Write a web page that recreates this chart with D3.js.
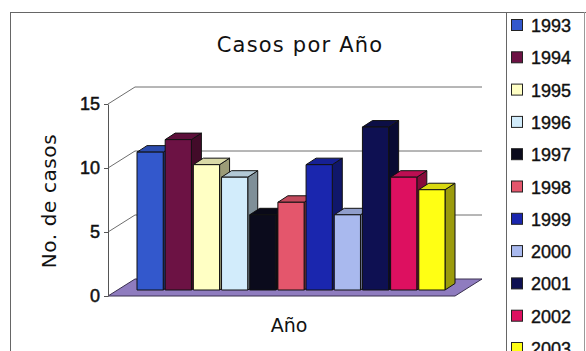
<!DOCTYPE html>
<html>
<head>
<meta charset="utf-8">
<script src="https://cdn.jsdelivr.net/npm/d3@7"></script>
<style>
  html, body { margin: 0; padding: 0; background: #fff; }
  svg { display: block; }
</style>
</head>
<body>
<svg id="chart" width="586" height="351"></svg>
<script>
// Chart data: one column per year
const years = ["1993", "1994", "1995", "1996", "1997", "1998", "1999", "2000", "2001", "2002", "2003"];
const cases = [11, 12, 10, 9, 6, 7, 10, 6, 13, 9, 8];
const yearColors = ["#3358cc", "#6c1244", "#ffffc4", "#d2ecfb", "#0b0b1c", "#e4566c",
                    "#1a26ae", "#a9b9ee", "#0e1052", "#dd1060", "#ffff14"];
const yTicks = [0, 5, 10, 15];
const titleText = "Casos por Año";
const yTitle = "No. de casos";
const xTitle = "Año";

const svg = d3.select("#chart");

// Oblique projection of the 3-D plot box
const depth = { dx: 27, dy: -17 };          // full floor depth
const barOffset = { dx: 9.5, dy: -6 };      // front plane of the bars
const barDepth = { dx: 10, dy: -6.5 };      // thickness of each bar
const axisX = 108;
const backRight = 482;

const y = d3.scaleLinear().domain([0, 15]).range([296, 104]);
const yBar = d3.scaleLinear().domain([0, 15]).range([296 + barOffset.dy, 296 + barOffset.dy - 188]);
const x = d3.scaleBand().domain(years).range([137, 445]).paddingInner(0.07).paddingOuter(0);
const color = d3.scaleOrdinal().domain(years).range(yearColors);

// Outer frame and legend box
svg.append("rect").attr("x", 10.5).attr("y", 12.5).attr("width", 600).attr("height", 400)
  .attr("fill", "none").attr("stroke", "#666");
svg.append("line").attr("x1", 506.5).attr("x2", 506.5).attr("y1", 12).attr("y2", 351)
  .attr("stroke", "#666");
svg.append("line").attr("x1", 584.5).attr("x2", 584.5).attr("y1", 12).attr("y2", 351)
  .attr("stroke", "#999");

// Title
svg.append("text").attr("x", 300).attr("y", 52).attr("text-anchor", "middle")
  .attr("font-family", "DejaVu Sans").attr("font-size", 21).attr("letter-spacing", 1.2)
  .attr("fill", "#111").text(titleText);

// Back-wall gridlines with their left-wall diagonals
const grid = svg.append("g").attr("fill", "none").attr("stroke", "#6e6e6e").attr("stroke-width", 1);
yTicks.filter(v => v > 0).forEach(v => {
  const y0 = y(v);
  grid.append("polyline")
    .attr("points", [[axisX, y0], [axisX + depth.dx, y0 + depth.dy], [backRight, y0 + depth.dy]].join(" "));
});

// Floor
const f0 = y(0);
svg.append("polygon")
  .attr("points", [[axisX, f0], [axisX + depth.dx, f0 + depth.dy], [backRight, f0 + depth.dy],
                   [backRight - depth.dx, f0]].join(" "))
  .attr("fill", "#8f7cbf").attr("stroke", "#3a3050").attr("stroke-width", 1);

// Y axis on the front-left edge
const axis = svg.append("g").attr("transform", `translate(${axisX},0)`)
  .call(d3.axisLeft(y).tickValues(yTicks).tickSize(4).tickSizeOuter(0).tickPadding(4));
axis.select(".domain").attr("stroke", "#555");
axis.selectAll(".tick line").attr("stroke", "#555");
axis.selectAll(".tick text").attr("font-family", "Liberation Sans").attr("font-size", 18)
  .attr("fill", "#111").attr("stroke", "#111").attr("stroke-width", 0.5);

// 3-D bars, drawn left to right so each one covers its neighbour's side face
const bars = svg.append("g").attr("stroke", "#111").attr("stroke-width", 1).attr("stroke-linejoin", "round");
years.forEach((yr, i) => {
  const x0 = x(yr), w = x.bandwidth(), x1 = x0 + w;
  const yt = yBar(cases[i]), yb = yBar(0);
  const c = d3.color(color(yr));
  const g = bars.append("g");
  g.append("polygon")
    .attr("points", [[x1, yt], [x1 + barDepth.dx, yt + barDepth.dy], [x1 + barDepth.dx, yb + barDepth.dy], [x1, yb]].join(" "))
    .attr("fill", c.darker(1.4));
  g.append("polygon")
    .attr("points", [[x0, yt], [x0 + barDepth.dx, yt + barDepth.dy], [x1 + barDepth.dx, yt + barDepth.dy], [x1, yt]].join(" "))
    .attr("fill", c.darker(0.45));
  g.append("rect").attr("x", x0).attr("y", yt).attr("width", w).attr("height", yb - yt)
    .attr("fill", c);
});

// Axis titles
svg.append("text").attr("transform", "translate(56,201) rotate(-90)").attr("text-anchor", "middle")
  .attr("font-family", "DejaVu Sans").attr("font-size", 20).attr("letter-spacing", 0.6)
  .attr("fill", "#111").text(yTitle);
svg.append("text").attr("x", 289).attr("y", 332).attr("text-anchor", "middle")
  .attr("font-family", "DejaVu Sans").attr("font-size", 19)
  .attr("fill", "#111").text(xTitle);

// Legend
const legendY = d3.scalePoint().domain(years).range([25, 348]);
const legend = svg.append("g");
years.forEach(yr => {
  const cy = legendY(yr);
  legend.append("rect").attr("x", 511.5).attr("y", cy - 5.5).attr("width", 11).attr("height", 11)
    .attr("fill", color(yr)).attr("stroke", "#222");
  legend.append("text").attr("x", 531).attr("y", cy + 7)
    .attr("font-family", "Liberation Sans").attr("font-size", 18)
    .attr("fill", "#111").attr("stroke", "#111").attr("stroke-width", 0.4).text(yr);
});
</script>
</body>
</html>
